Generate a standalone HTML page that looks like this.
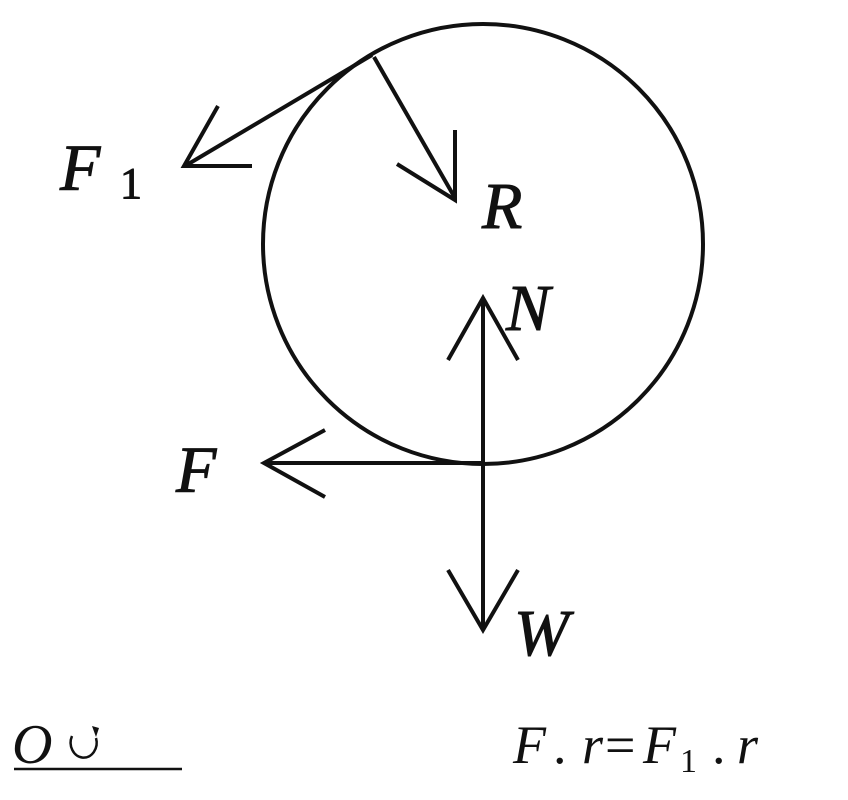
<!DOCTYPE html>
<html><head><style>body{margin:0;background:#fff}svg{display:block}
text{font-family:"Liberation Serif",serif;font-style:italic;fill:#111}
.n{font-style:normal}</style></head><body>
<svg width="848" height="800" viewBox="0 0 848 800" xmlns="http://www.w3.org/2000/svg">
<g fill="none" stroke="#111" stroke-width="4" stroke-linecap="butt">
<circle cx="483" cy="244" r="220"/>
<line x1="372" y1="55" x2="185" y2="166"/>
<polyline points="218,106 184,166 252,166"/>
<line x1="374" y1="57" x2="455" y2="198"/>
<polyline points="455,130 455,200 397,164"/>
<line x1="483" y1="463" x2="483" y2="298"/>
<polyline points="448,360 483,298 518,360"/>
<line x1="483" y1="463" x2="483" y2="628"/>
<polyline points="448,570 483,630 518,570"/>
<line x1="483" y1="463" x2="264" y2="463"/>
<polyline points="325,430 264,463 325,497"/>
<line x1="14" y1="769" x2="182" y2="769" stroke-width="2.5"/>
<path d="M72,736 A13,15 0 1 0 96,738" stroke-width="2.5"/>
</g>
<path d="M92,726 l7,2 l-3,9 z" fill="#111"/>
<g stroke="#111" stroke-width="1">
<text x="60" y="190" font-size="66">F</text>
<text x="120" y="198" font-size="44" class="n">1</text>
<text x="482" y="228" font-size="66">R</text>
<text x="506" y="330" font-size="66">N</text>
<text x="176" y="492" font-size="66">F</text>
<text x="514" y="655" font-size="66">W</text>
</g>
<text x="12" y="763" font-size="56">O</text>
<text x="513" y="763" font-size="54">F</text>
<text x="553" y="763" font-size="54" class="n">.</text>
<text x="582" y="763" font-size="54">r</text>
<text x="605" y="763" font-size="54" class="n">=</text>
<text x="643" y="763" font-size="54">F</text>
<text x="680" y="772" font-size="34" class="n">1</text>
<text x="712" y="763" font-size="54" class="n">.</text>
<text x="737" y="763" font-size="54">r</text>
</svg>
</body></html>
